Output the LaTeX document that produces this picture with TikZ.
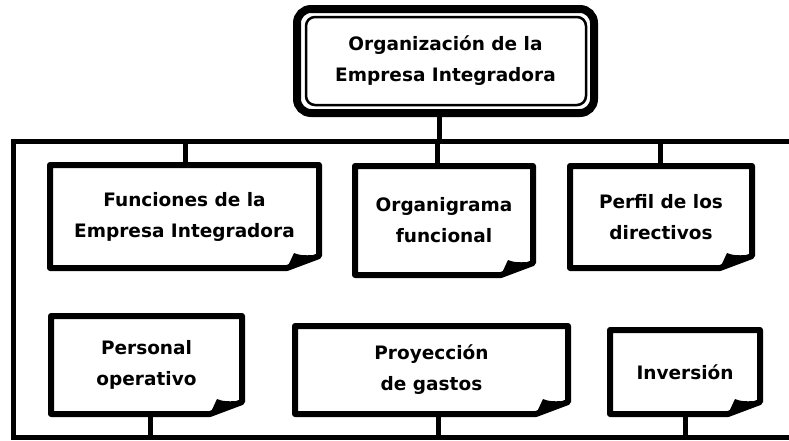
\documentclass[tikz,border=0pt]{standalone}
\usepackage{fontspec}
\setmainfont{DejaVu Sans}

\tikzset{
  every node/.style={font=\bfseries\fontsize{18.5}{31}\selectfont, align=center, outer sep=0pt},
  titlebox/.style={draw, line width=8pt, rounded corners=14pt},
  notebox/.style={inner sep=0pt},
  bus/.style={line width=5pt},
  noteline/.style={line width=6pt, line join=round},
}

% outline of a sheet with its lower right corner turned up
\newcommand\sheet[1]{
  \draw[noteline] (#1.north west) -- (#1.north east) -- ([yshift=12pt]#1.south east)
    -- ([xshift=-32pt]#1.south east) -- (#1.south west) -- cycle;
  \fill[line join=round] ([xshift=-32pt]#1.south east) -- ([xshift=-25pt,yshift=15pt]#1.south east)
    .. controls ([xshift=-16pt,yshift=11pt]#1.south east) and ([xshift=-8pt,yshift=14pt]#1.south east)
    .. ([yshift=12pt]#1.south east) -- cycle;
}

\begin{document}
\begin{tikzpicture}[x=1pt,y=-1pt]
\useasboundingbox (0,0) rectangle (789,440);

\node[titlebox, minimum width=297pt, minimum height=104pt] (empresa) at (445.5,61) {Organización de la\\Empresa Integradora};
\draw[line width=2.5pt, rounded corners=9pt] ([shift={(9pt,-8pt)}]empresa.north west) rectangle ([shift={(-8pt,8pt)}]empresa.south east);

\node[notebox, minimum width=269pt, minimum height=103pt] (funciones) at (184.5,216.5) {Funciones de la\\Empresa Integradora};
\node[notebox, minimum width=178pt, minimum height=109pt] (organigrama) at (444,220.5) {Organigrama\\funcional};
\node[notebox, minimum width=182pt, minimum height=102pt] (perfil) at (661,217) {Perfil de los\\directivos};
\node[notebox, minimum width=191pt, minimum height=98pt] (personal) at (146.5,365) {Personal\\operativo};
\node[notebox, minimum width=273pt, minimum height=88pt] (gastos) at (431.5,370) {Proyección\\de gastos};
\node[notebox, minimum width=150pt, minimum height=84pt] (inversion) at (685,372) {Inversión};

% frame
\coordinate (bustop) at (13,141.5);
\coordinate (busbot) at (13,437);
\coordinate (bustopend) at (796,141.5);
\coordinate (busbotend) at (796,437);
\draw[bus] (bustopend) -- (bustop) -- (busbot) -- (busbotend);

\draw[bus] ([xshift=-6.5pt]empresa.south) -- ([xshift=-6.5pt]empresa.south |- bustop);
\foreach \n/\dx in {funciones/1,organigrama/-7,perfil/-1}
  \draw[bus] ([xshift=\dx pt]\n.north) -- ([xshift=\dx pt]\n.north |- bustop);
\foreach \n/\dx in {personal/3.5,gastos/6.5,inversion/0}
  \draw[bus] ([xshift=\dx pt]\n.south) -- ([xshift=\dx pt]\n.south |- busbot);

\foreach \n in {funciones,organigrama,perfil,personal,gastos,inversion}
  {\sheet{\n}}
\end{tikzpicture}
\end{document}
